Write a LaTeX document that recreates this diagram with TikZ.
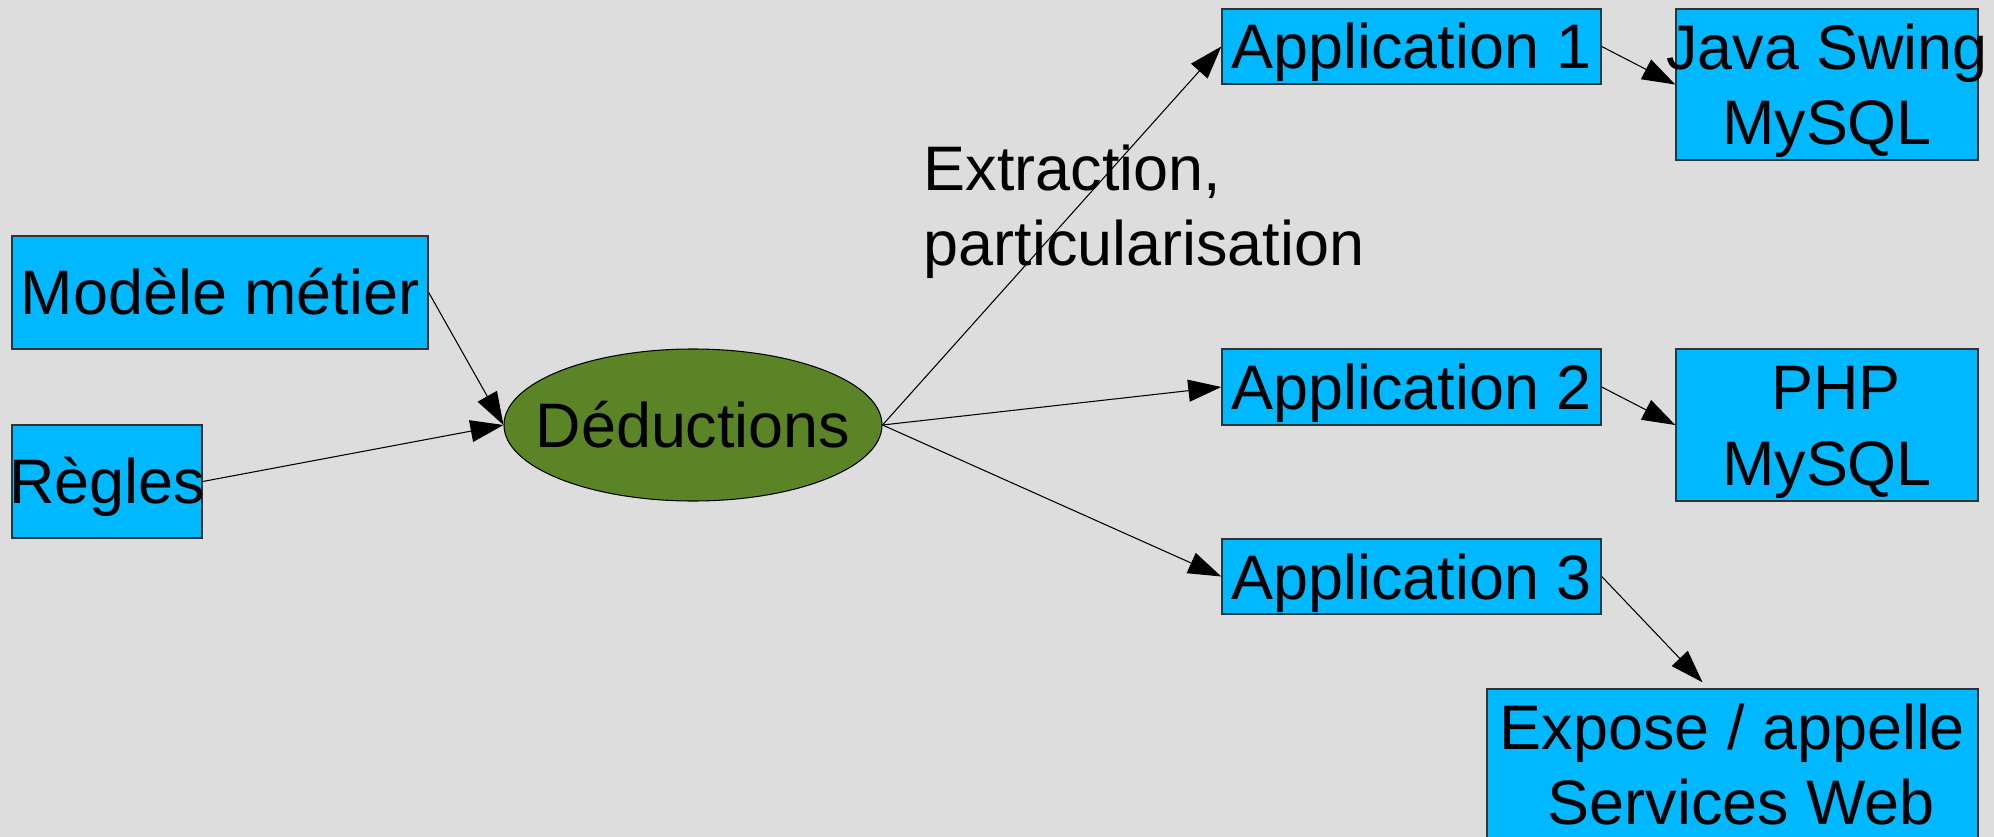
\documentclass[tikz,border=0pt]{standalone}
\usepackage{fontspec}
\setmainfont{Liberation Sans}
\usetikzlibrary{arrows.meta,shapes.geometric}
\definecolor{bleubloc}{HTML}{00B8FF}
\definecolor{vertded}{HTML}{5B8427}
\definecolor{fondgris}{HTML}{DDDDDD}
\newcommand{\ctxt}[1]{\makebox[0pt]{\rule[-3.8pt]{0pt}{20.4pt}#1}}
\newcommand{\lig}[1]{\rule[-3.8pt]{0pt}{20.4pt}#1}

\begin{document}
\begin{tikzpicture}[
	every node/.style={font=\fontsize{17.9}{20.2}\selectfont, inner sep=0pt},
	bloc/.style={rectangle, draw=black!80, line width=0.4pt, fill=bleubloc, align=center},
	fleche/.style={line width=0.3pt, -{Triangle[length=0.33cm,width=0.22cm]}}
	]
		\def\appx{14.115};
		\def\appw{3.79};
		\fill[fondgris] (0,0) rectangle (19.94,-8.37);
		\useasboundingbox (0,0) rectangle (19.94,-8.37);
		
		\node[bloc, minimum width=4.16cm, minimum height=1.13cm] (modele) at (2.20,-2.925) {\ctxt{Modèle métier}};
		\node[bloc, minimum width=1.90cm, minimum height=1.13cm] (regles) at (1.07,-4.815) {\ctxt{Règles}};
		\node[ellipse, draw=black, line width=0.3pt, fill=vertded, minimum width=3.78cm, minimum height=1.52cm] (ded) at (6.93,-4.25) {\ctxt{Déductions}};
		
		\node[bloc, minimum width=\appw cm, minimum height=0.75cm] (app1) at (\appx,-0.465) {\ctxt{Application 1}};
		\node[bloc, minimum width=\appw cm, minimum height=0.76cm] (app2) at (\appx,-3.87) {\ctxt{Application 2}};
		\node[bloc, minimum width=\appw cm, minimum height=0.75cm] (app3) at (\appx,-5.765) {\ctxt{Application 3}};
		
		\node[bloc, minimum width=3.02cm, minimum height=1.51cm] (java) at (18.27,-0.845) {\ctxt{Java Swing}\\\ctxt{MySQL}};
		\node[bloc, minimum width=3.02cm, minimum height=1.52cm] (php) at (18.27,-4.25) {\ctxt{\ PHP}\\\ctxt{MySQL}};
		\node[bloc, minimum width=4.91cm, minimum height=1.51cm] (expose) at (17.325,-7.645) {\ctxt{Expose / appelle}\\\ctxt{\ Services Web}};
		
		\node[anchor=west, align=left] (extract) at (9.23,-2.056) {\lig{Extraction,}\\\lig{particularisation}};
		
		\draw[fleche] (modele.east) -- (ded.west);
		\draw[fleche] (regles.east) -- (ded.west);
		\draw[fleche] (ded.east) -- (app1.west);
		\draw[fleche] (ded.east) -- (app2.west);
		\draw[fleche] (ded.east) -- (app3.west);
		\draw[fleche] (app1.east) -- (java.west);
		\draw[fleche] (app2.east) -- (php.west);
		\draw[fleche] (app3.east) -- ([xshift=-0.3cm,yshift=0.06cm]expose.north);
	\end{tikzpicture}
\end{document}
